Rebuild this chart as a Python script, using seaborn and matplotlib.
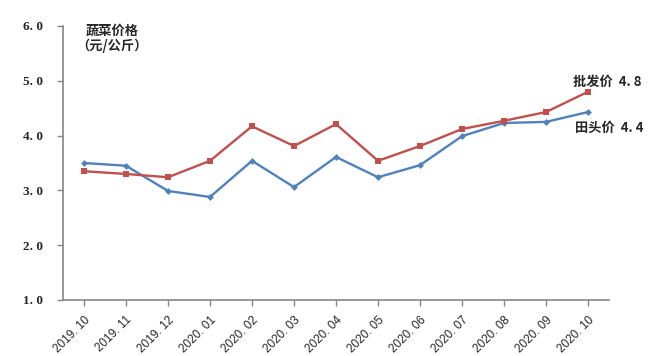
import matplotlib
matplotlib.use("Agg")
import matplotlib.pyplot as plt
import seaborn as sns
import pandas as pd

months = ["2019. 10", "2019. 11", "2019. 12", "2020. 01", "2020. 02", "2020. 03", "2020. 04",
          "2020. 05", "2020. 06", "2020. 07", "2020. 08", "2020. 09", "2020. 10"]
farm_price = [3.50, 3.45, 2.99, 2.88, 3.54, 3.06, 3.61, 3.24, 3.46, 3.99, 4.23, 4.25, 4.43]
wholesale_price = [3.35, 3.30, 3.24, 3.54, 4.17, 3.81, 4.21, 3.54, 3.81, 4.12, 4.27, 4.43, 4.80]
y_ticks = [1.0, 2.0, 3.0, 4.0, 5.0, 6.0]

sns.set_style("white")
plt.rcParams['font.family'] = ['Noto Sans CJK SC', 'DejaVu Sans']

df = pd.DataFrame({"pos": range(len(months)), "month": months,
                   "farm": farm_price, "wholesale": wholesale_price})

fig = plt.figure(figsize=(6.52, 3.56), dpi=100)
ax = fig.add_axes([63/652, 1-300/356, (609-63)/652, (300-26)/356])

sns.lineplot(data=df, x="pos", y="farm", ax=ax, color="#4F81BD", linewidth=1.7,
             marker="D", markersize=3.5, markeredgewidth=0, markerfacecolor="#4F81BD")
sns.lineplot(data=df, x="pos", y="wholesale", ax=ax, color="#C0504D", linewidth=1.7,
             marker="s", markersize=5, markeredgewidth=0, markerfacecolor="#C0504D")

ax.set_xlim(-0.5, len(months) - 0.5)
ax.set_ylim(1.0, 6.0)
ax.set_yticks(y_ticks)
ax.set_yticklabels([f"{v:.1f}".replace(".", ". ") for v in y_ticks],
                   fontsize=9.5, fontweight="bold", family=["Liberation Serif"])
ax.set_xticks(range(len(months)))
ax.set_xticklabels(months, rotation=45, ha="right", rotation_mode="anchor",
                   fontsize=8.5, family=["Liberation Sans"])
ax.set_xlabel("")
ax.set_ylabel("")

for s in ["top", "right"]:
    ax.spines[s].set_visible(False)
for s in ["left", "bottom"]:
    ax.spines[s].set_color("#868686")
    ax.spines[s].set_linewidth(1.2)
ax.tick_params(axis="both", which="both", direction="out", length=4, width=1,
               color="#868686", left=True, bottom=True, pad=6)
ax.tick_params(axis="y", pad=25)
for lbl in ax.get_yticklabels():
    lbl.set_horizontalalignment("left")

fig.text(112/652, 1-31/356, "蔬菜价格", fontsize=9.5, fontweight="bold", ha="center", va="center")
fig.text(112/652, 1-46/356, "（元/公斤）", fontsize=9.5, fontweight="bold", ha="center", va="center")
fig.text(573/652, 1-82/356, "批发价  4. 8", fontsize=9.5, fontweight="bold", ha="left", va="center")
fig.text(575/652, 1-128/356, "田头价  4. 4", fontsize=9.5, fontweight="bold", ha="left", va="center")

fig.savefig("out.png", dpi=100)
